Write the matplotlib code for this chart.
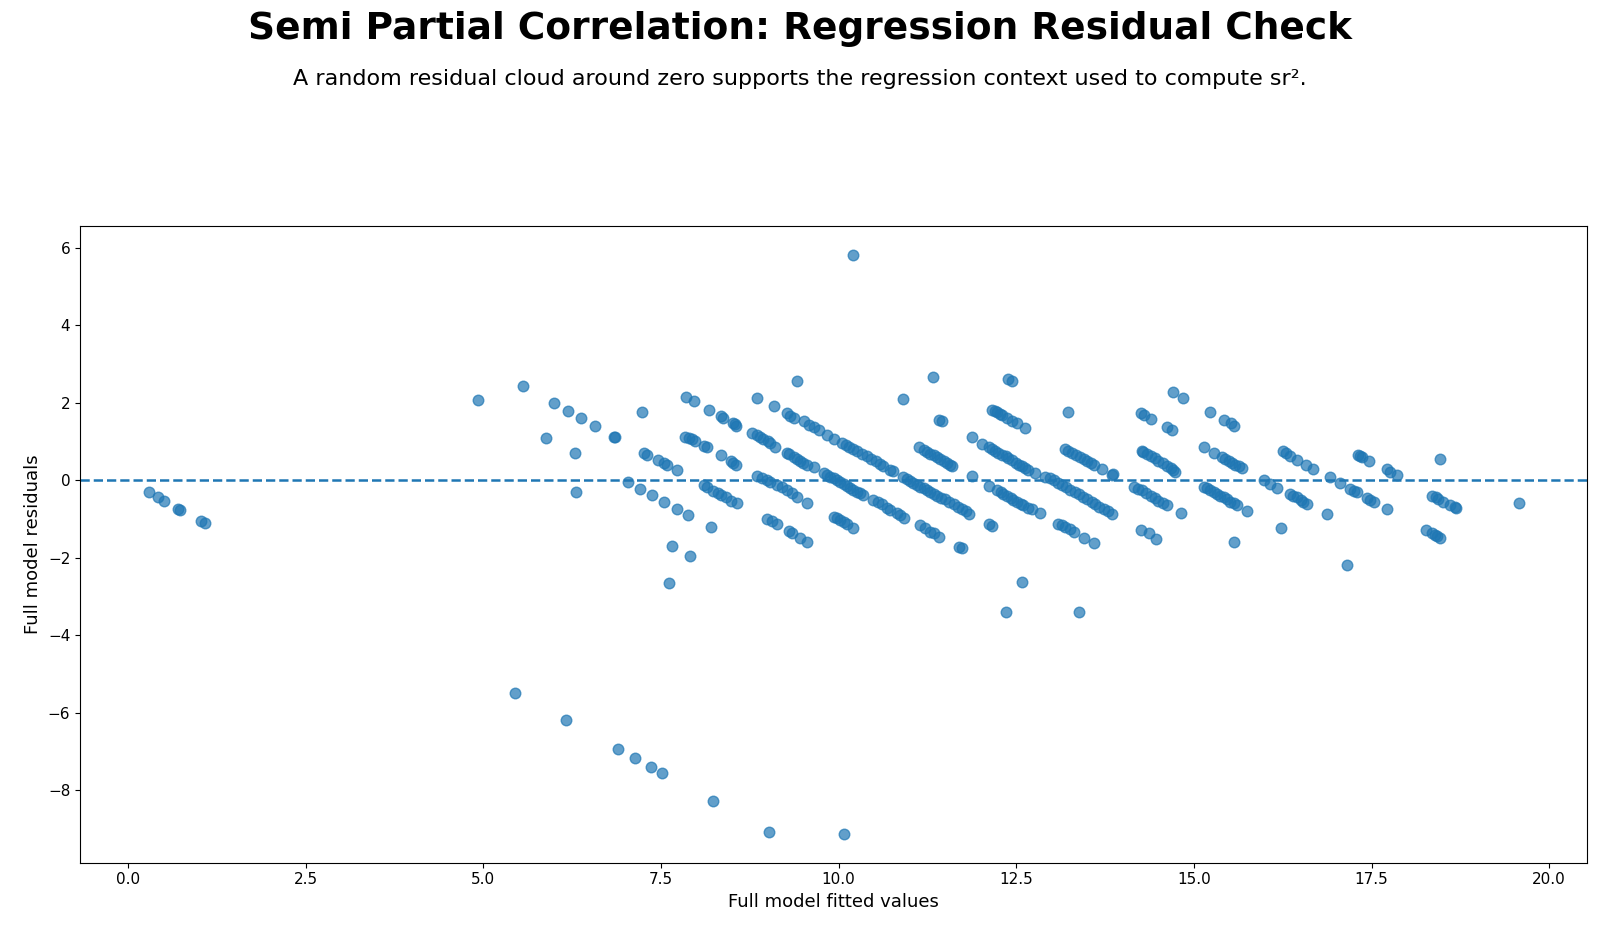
import matplotlib
matplotlib.use("Agg")
import matplotlib.pyplot as plt

# fitted values and residuals, grouped by streak
fitted = [
    0.29, 0.42, 0.51, 0.71, 0.74, 1.03, 1.09,
    4.92, 5.56, 5.99, 5.89, 6.19, 6.38, 6.29, 6.30, 6.57, 6.84, 6.86,
    7.04, 7.21, 7.23, 7.26, 7.31, 7.37, 7.46, 7.54, 7.58, 7.54, 7.73, 7.73,
    7.88, 7.66, 7.91, 7.62, 7.85, 7.96, 7.84, 7.89, 7.94, 7.98, 8.10, 8.15,
    8.17, 8.11, 8.15, 8.20,
    8.34, 8.38, 8.51, 8.56, 8.54, 8.34, 8.48, 8.56, 8.52, 8.24, 8.30, 8.34,
    8.41, 8.48, 8.57,
    8.85, 9.09, 9.41,
    9.27, 9.32, 9.37, 9.51, 9.58, 9.65, 9.72, 9.84, 9.93, 10.05, 10.10,
    10.14, 10.20, 10.26, 10.33, 10.40, 10.46, 10.52, 10.58, 10.63, 10.73, 10.76,
    8.78, 8.85, 8.90, 8.94, 9.00, 9.04, 9.11, 9.27, 9.30, 9.37, 9.42, 9.46,
    9.50, 9.55, 9.65,
    9.79, 9.84, 9.88, 9.93, 9.98, 10.02, 10.07, 10.12, 10.16, 10.21, 10.26,
    10.30, 10.35, 10.49, 10.55, 10.61, 10.68, 10.73, 10.82, 10.87, 10.92,
    8.85, 8.92, 8.99, 9.04, 9.13, 9.20, 9.27, 9.34, 9.41, 9.55,
    8.99, 9.06, 9.13, 9.30, 9.35, 9.46, 9.55,
    9.93, 9.98, 10.02, 10.07, 10.12, 10.21,
    10.91, 11.33, 11.41, 11.45,
    11.13, 11.20, 11.25, 11.29, 11.34, 11.38, 11.43, 11.48, 11.53, 11.57, 11.60,
    10.91, 10.96, 11.01, 11.05, 11.10, 11.15, 11.20, 11.25, 11.29, 11.34,
    11.38, 11.44, 11.50, 11.56, 11.62, 11.68, 11.74, 11.80, 11.83,
    11.15, 11.22, 11.29, 11.34, 11.42, 11.69, 11.74,
    11.88, 11.88,
    12.02, 12.11, 12.16, 12.20, 12.25, 12.30, 12.35, 12.39, 12.44, 12.49,
    12.54, 12.58, 12.63, 12.67, 12.77,
    12.11, 12.11, 12.16,
    12.16, 12.20, 12.23, 12.27, 12.30, 12.37, 12.44, 12.51, 12.63,
    12.39, 12.44,
    12.23, 12.28, 12.32, 12.37, 12.42, 12.46, 12.51, 12.56, 12.60, 12.66,
    12.72, 12.84,
    12.58, 12.35, 13.38,
    12.91, 12.97, 13.03, 13.09, 13.14, 13.20, 13.26, 13.32, 13.38, 13.44,
    13.50, 13.56, 13.61, 13.67, 13.73, 13.79, 13.85,
    13.23,
    13.19, 13.23, 13.28, 13.34, 13.40, 13.45, 13.50, 13.55, 13.59, 13.71,
    13.85, 13.86,
    13.09, 13.14, 13.19, 13.25, 13.31, 13.45, 13.59,
    14.25, 14.30, 14.39,
    14.27, 14.29, 14.34, 14.39, 14.45, 14.50, 14.56, 14.62, 14.68, 14.74, 14.71,
    14.62, 14.69, 14.71, 14.85,
    14.15, 14.21, 14.27, 14.33, 14.39, 14.45, 14.50, 14.56, 14.62, 14.82,
    14.25, 14.37, 14.47,
    15.23, 15.43, 15.52, 15.57,
    15.14, 15.28, 15.39, 15.44, 15.49, 15.54, 15.58, 15.68, 15.63,
    15.14, 15.18, 15.23, 15.28, 15.32, 15.37, 15.42, 15.46, 15.51, 15.56,
    15.61, 15.75,
    15.56,
    15.98, 16.07, 16.17, 16.22,
    16.26, 16.30, 16.35, 16.45, 16.58, 16.67,
    16.35, 16.40, 16.45, 16.50, 16.54, 16.59,
    16.87, 16.91, 17.06,
    17.20, 17.25, 17.29, 17.43, 17.48, 17.53,
    17.15,
    17.31, 17.34, 17.36, 17.47,
    17.71, 17.76, 17.86, 17.71,
    18.46, 18.35, 18.40, 18.44, 18.51, 18.61, 18.69, 18.67,
    18.26, 18.35, 18.39, 18.42, 18.46,
    19.57,
    10.21, 5.45, 6.16, 6.90, 7.13, 7.36, 7.52, 8.24, 9.02, 10.08,
]

residuals = [
    -0.30, -0.44, -0.53, -0.74, -0.76, -1.04, -1.09,
    2.07, 2.45, 2.00, 1.10, 1.80, 1.60, 0.70, -0.30, 1.41, 1.13, 1.13,
    -0.05, -0.23, 1.77, 0.72, 0.66, -0.38, 0.53, 0.45, 0.40, -0.56, 0.26, -0.74,
    -0.88, -1.69, -1.94, -2.66, 2.16, 2.04, 1.12, 1.10, 1.07, 1.01, 0.90, 0.85,
    1.81, -0.11, -0.16, -1.21,
    1.66, 1.61, 1.48, 1.41, 1.45, 0.66, 0.51, 0.40, 0.45, -0.27, -0.32, -0.37,
    -0.44, -0.52, -0.59,
    2.13, 1.91, 2.56,
    1.74, 1.67, 1.61, 1.53, 1.44, 1.37, 1.29, 1.16, 1.07, 0.97, 0.92,
    0.86, 0.80, 0.75, 0.68, 0.62, 0.56, 0.49, 0.43, 0.36, 0.26, 0.24,
    1.23, 1.16, 1.12, 1.07, 1.01, 0.97, 0.86, 0.71, 0.68, 0.60, 0.55, 0.49,
    0.45, 0.40, 0.34,
    0.19, 0.14, 0.10, 0.05, 0.00, -0.04, -0.10, -0.15, -0.20, -0.25, -0.29,
    -0.33, -0.37, -0.50, -0.55, -0.61, -0.70, -0.76, -0.85, -0.90, -0.96,
    0.12, 0.06, 0.00, -0.05, -0.11, -0.17, -0.24, -0.33, -0.42, -0.59,
    -1.00, -1.06, -1.12, -1.31, -1.36, -1.48, -1.58,
    -0.94, -0.98, -1.02, -1.07, -1.12, -1.24,
    2.09, 2.68, 1.57, 1.53,
    0.85, 0.79, 0.74, 0.69, 0.65, 0.60, 0.56, 0.51, 0.46, 0.40, 0.38,
    0.09, 0.04, -0.01, -0.06, -0.11, -0.16, -0.20, -0.26, -0.31, -0.35,
    -0.40, -0.45, -0.48, -0.55, -0.61, -0.68, -0.74, -0.80, -0.87,
    -1.15, -1.22, -1.32, -1.35, -1.45, -1.71, -1.75,
    1.12, 0.12,
    0.95, 0.86, 0.81, 0.75, 0.70, 0.66, 0.62, 0.58, 0.52, 0.46,
    0.41, 0.36, 0.32, 0.27, 0.20,
    -0.14, -1.12, -1.18,
    1.83, 1.79, 1.76, 1.72, 1.69, 1.61, 1.54, 1.48, 1.35,
    2.62, 2.56,
    -0.24, -0.30, -0.35, -0.40, -0.46, -0.50, -0.55, -0.60, -0.63, -0.70,
    -0.74, -0.85,
    -2.62, -3.40, -3.41,
    0.10, 0.05, 0.00, -0.06, -0.11, -0.18, -0.24, -0.30, -0.35, -0.42,
    -0.48, -0.55, -0.61, -0.68, -0.74, -0.80, -0.87,
    1.77,
    0.81, 0.76, 0.71, 0.66, 0.60, 0.55, 0.51, 0.45, 0.40, 0.29,
    0.15, 0.17,
    -1.12, -1.16, -1.21, -1.26, -1.32, -1.48, -1.62,
    1.74, 1.70, 1.59,
    0.75, 0.74, 0.68, 0.62, 0.57, 0.51, 0.44, 0.38, 0.31, 0.23, 0.27,
    1.38, 1.31, 2.28, 2.13,
    -0.16, -0.21, -0.26, -0.33, -0.40, -0.46, -0.52, -0.58, -0.63, -0.83,
    -1.28, -1.37, -1.50,
    1.77, 1.57, 1.47, 1.40,
    0.86, 0.71, 0.60, 0.55, 0.49, 0.44, 0.40, 0.32, 0.37,
    -0.16, -0.20, -0.24, -0.30, -0.35, -0.39, -0.43, -0.49, -0.55, -0.59,
    -0.63, -0.78,
    -1.58,
    0.02, -0.09, -0.20, -1.24,
    0.75, 0.70, 0.64, 0.53, 0.40, 0.29,
    -0.35, -0.39, -0.43, -0.50, -0.55, -0.61,
    -0.87, 0.10, -0.07,
    -0.23, -0.27, -0.31, -0.46, -0.50, -0.55,
    -2.19,
    0.66, 0.64, 0.60, 0.49,
    0.29, 0.23, 0.13, -0.74,
    0.55, -0.39, -0.43, -0.48, -0.55, -0.63, -0.72, -0.68,
    -1.28, -1.37, -1.40, -1.44, -1.48,
    -0.59,
    5.81, -5.48, -6.18, -6.93, -7.17, -7.40, -7.56, -8.28, -9.07, -9.12,
]

fig, ax = plt.subplots(figsize=(16, 9.32), dpi=100)
fig.subplots_adjust(left=0.05, right=0.992, top=0.757, bottom=0.0745)

ax.scatter(fitted, residuals, s=58, color="#1f77b4", alpha=0.7)
ax.axhline(0, color="#1f77b4", linestyle="--", linewidth=1.8)

ax.set_xlabel("Full model fitted values", fontsize=13)
ax.set_ylabel("Full model residuals", fontsize=13)
ax.tick_params(labelsize=11)

fig.text(0.5, 0.969, "Semi Partial Correlation: Regression Residual Check",
         ha="center", va="center", fontsize=27, fontweight="bold")
fig.text(0.5, 0.915, "A random residual cloud around zero supports the regression context used to compute sr\u00b2.",
         ha="center", va="center", fontsize=16)

fig.savefig("out.png")
